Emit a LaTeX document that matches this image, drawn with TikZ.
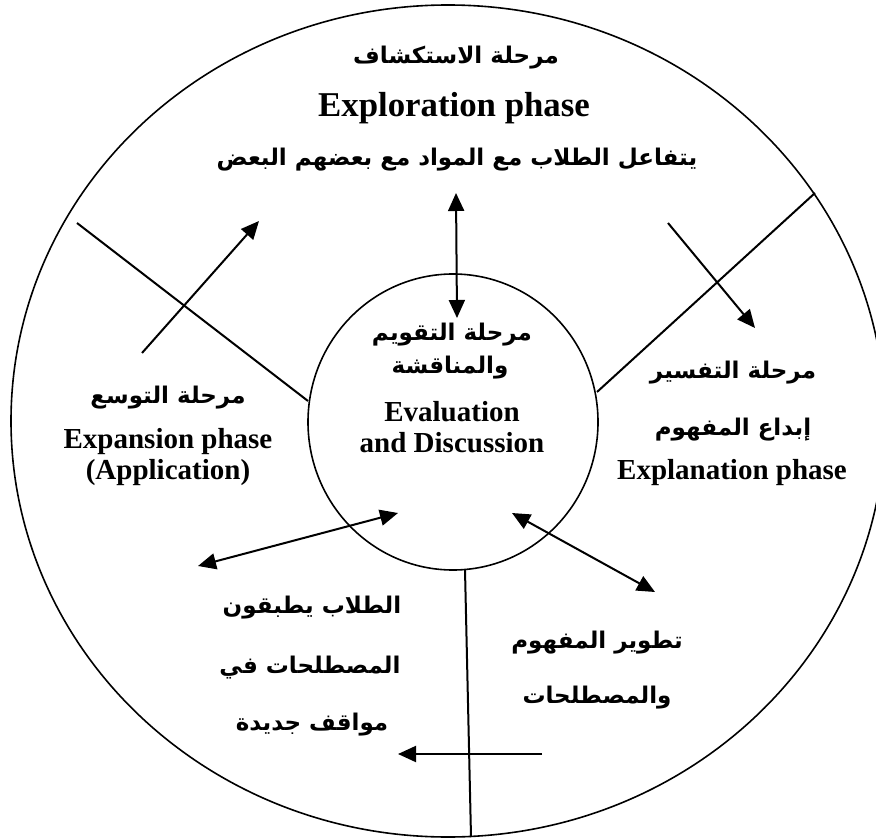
\documentclass[tikz,border=0pt]{standalone}
\usepackage{fontspec}
\setmainfont{Liberation Serif}
\newfontfamily\arabicfont[Script=Arabic]{DejaVu Sans}
\TeXXeTstate=1
\usetikzlibrary{arrows.meta, shapes.geometric}
\tikzset{
  ring/.style={draw, line width=0.8pt, ellipse, inner sep=0pt},
  conn/.style={line width=1pt},
  tip/.tip={Triangle[length=9pt,width=8pt]},
  arr/.style={conn, -tip},
  darr/.style={conn, tip-tip},
  en/.style={font=\bfseries\fontsize{14.5}{16}\selectfont, inner sep=0pt},
  enbig/.style={font=\bfseries\fontsize{17.4}{19}\selectfont, inner sep=0pt},
  ar/.style={font=\arabicfont\bfseries\fontsize{11.5}{14}\selectfont, inner sep=0pt},
}
\begin{document}
\begin{tikzpicture}[x=0.5pt, y=-0.5pt]
\useasboundingbox (0,0) rectangle (876,839);
\fill[white] (0,0) rectangle (876,839);
% circles
\node[ring, minimum width=437pt, minimum height=416pt] (outer) at (448,421) {};
\node[ring, minimum width=145pt, minimum height=148pt] (inner) at (453,422) {};
% texts
\node[ar] (t1) at (456,58) {\beginR مرحلة الاستكشاف\endR};
\node[enbig] (t2) at (454,108) {Exploration phase};
\node[ar] (t3) at (457,160) {\beginR يتفاعل الطلاب مع المواد مع بعضهم البعض\endR};
\node[ar] (c1) at (452,335) {\beginR مرحلة التقويم\endR};
\node[ar] (c2) at (450,368) {\beginR والمناقشة\endR};
\node[en] (c3) at (452,412) {Evaluation};
\node[en] (c4) at (452,443) {and Discussion};
\node[ar] (l1) at (168,398) {\beginR مرحلة التوسع\endR};
\node[en] (l2) at (168,442) {Expansion phase};
\node[en] (l3) at (168,473) {(Application)};
\node[ar] (r1) at (733,373) {\beginR مرحلة التفسير\endR};
\node[ar] (r2) at (733,430) {\beginR إبداع المفهوم\endR};
\node[en] (r3) at (732,473) {Explanation phase};
\node[ar] (b1) at (312,608) {\beginR الطلاب يطبقون\endR};
\node[ar] (b2) at (310,668) {\beginR المصطلحات في\endR};
\node[ar] (b3) at (312,725) {\beginR مواقف جديدة\endR};
\node[ar] (d1) at (597,643) {\beginR تطوير المفهوم\endR};
\node[ar] (d2) at (597,698) {\beginR والمصطلحات\endR};
% coordinates
\coordinate (ta) at (456,193);
\coordinate (tb) at (457,318);
\coordinate (ld1) at (77,223);
\coordinate (ld2) at (308,401);
\coordinate (la1) at (142,353);
\coordinate (la2) at (259,221);
\coordinate (rd1) at (597,392);
\coordinate (rd2) at (815,193);
\coordinate (ra1) at (668,223);
\coordinate (ra2) at (755,328);
\coordinate (bl1) at (198,566);
\coordinate (bl2) at (398,513);
\coordinate (br1) at (512,513);
\coordinate (br2) at (655,592);
\coordinate (bd1) at (465,570);
\coordinate (bd2) at (471,837);
\coordinate (ba1) at (542,754);
\coordinate (ba2) at (398,754);
% connectors
\draw[darr] (ta) -- (tb);
\draw[conn] (ld1) -- (ld2);
\draw[arr] (la1) -- (la2);
\draw[conn] (rd1) -- (rd2);
\draw[arr] (ra1) -- (ra2);
\draw[darr] (bl1) -- (bl2);
\draw[darr] (br1) -- (br2);
\draw[conn] (bd1) -- (bd2);
\draw[arr] (ba1) -- (ba2);
\end{tikzpicture}
\end{document}
